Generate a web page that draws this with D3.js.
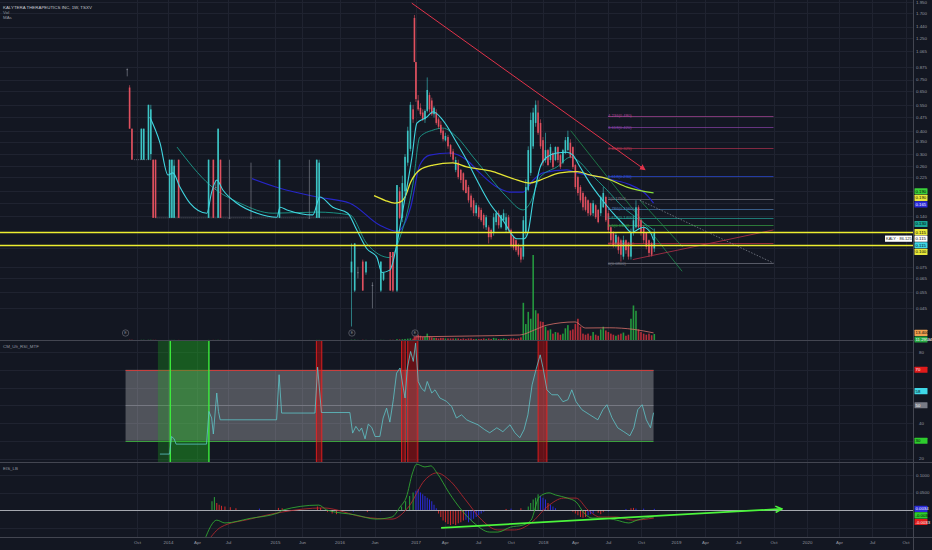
<!DOCTYPE html>
<html><head><meta charset="utf-8">
<script src="https://cdn.jsdelivr.net/npm/d3@7/dist/d3.min.js"></script>
<style>body{margin:0;background:#131722;overflow:hidden}svg{display:block}</style>
</head><body>
<svg id="c" width="932" height="550"></svg>
<script>
// ---------------- DATA ----------------
const title = "KALYTERA THERAPEUTICS INC, 1W, TSXV";
const xTickDates = ["2013-10-01","2014-01-01","2014-04-01","2014-07-01","2015-01-01","2015-06-01","2016-01-01","2016-06-01","2017-01-01","2017-04-01","2017-07-01","2017-10-01","2018-01-01","2018-04-01","2018-07-01","2018-10-01","2019-01-01","2019-04-01","2019-07-01","2019-10-01","2020-01-01","2020-04-01","2020-07-01","2020-10-01"];
const xTickLabels = ["Oct","2014","Apr","Jul","2015","Jun","2016","Jun","2017","Apr","Jul","Oct","2018","Apr","Jul","Oct","2019","Apr","Jul","Oct","2020","Apr","Jul","Oct"];
const priceTicks = [1.950,1.700,1.440,1.250,1.065,0.875,0.750,0.650,0.550,0.475,0.400,0.350,0.300,0.260,0.225,0.190,0.165,0.140,0.115,0.095,0.075,0.065,0.055,0.045];
const rsiTicks = [80,70,60,50,40,30,20];
const eisTicks = [0.1,0.05,0,-0.05];

// weekly candles: date, open, high, low, close, volume (M)
const candles = [
["2013-09-02",.85,.86,.78,.85,.2],["2013-09-09",.68,.70,.41,.41,.5],["2013-09-16",.41,.41,.28,.28,.4],
["2013-10-14",.28,.41,.28,.41,.3],["2013-10-21",.28,.41,.28,.41,.3],["2013-11-04",.28,.55,.28,.55,.4],
["2013-11-11",.30,.55,.28,.52,.4],["2013-11-18",.28,.28,.137,.137,.3],["2013-11-25",.28,.28,.137,.137,.3],
["2014-01-06",.137,.28,.137,.28,.2],["2014-01-13",.137,.28,.137,.28,.2],["2014-01-20",.137,.28,.137,.26,.2],
["2014-02-03",.28,.28,.137,.137,.2],["2014-05-05",.137,.28,.137,.28,.2],["2014-05-19",.28,.28,.137,.137,.2],
["2014-05-26",.20,.218,.193,.20,.1],["2014-06-02",.137,.41,.137,.41,.3],["2014-06-09",.28,.28,.137,.137,.2],
["2014-07-07",.137,.28,.137,.137,.1],["2014-09-29",.137,.27,.137,.137,.1],["2015-01-26",.137,.28,.137,.28,.2],
["2015-07-13",.137,.28,.137,.137,.1],["2015-08-24",.137,.28,.137,.28,.2],["2015-09-07",.137,.28,.137,.27,.2],
["2016-02-22",.07,.10,.036,.08,.5],["2016-03-07",.056,.10,.055,.10,.6],["2016-03-21",.07,.075,.065,.07,.2],
["2016-04-11",.08,.082,.056,.056,.4],["2016-04-25",.07,.08,.068,.08,.3],["2016-05-23",.06,.062,.045,.06,.2],
["2016-07-04",.056,.08,.055,.08,.3],["2016-07-18",.064,.07,.063,.07,.2],["2016-08-22",.09,.09,.056,.056,.4],
["2016-09-05",.09,.09,.055,.056,.4],["2016-09-26",.056,.205,.055,.205,1.5],["2016-10-10",.19,.20,.135,.137,1.2],
["2016-10-24",.137,.23,.13,.21,1.5],["2016-11-07",.19,.30,.18,.29,2],["2016-11-21",.27,.42,.26,.40,2.5],
["2016-12-05",.32,.57,.31,.55,3],["2016-12-19",.52,.55,.44,.46,2.5],["2016-12-26",1.60,1.66,.93,.93,12],
["2017-01-02",.93,.93,.57,.59,18],["2017-01-09",.58,.62,.51,.52,10],["2017-01-16",.53,.56,.48,.49,8],
["2017-01-23",.50,.52,.45,.46,6],["2017-01-30",.46,.52,.44,.51,6],["2017-02-06",.51,.77,.50,.66,12],
["2017-02-13",.62,.64,.50,.52,7],["2017-02-20",.58,.60,.48,.49,5],["2017-02-27",.49,.54,.47,.53,4],
["2017-03-06",.50,.52,.43,.44,4],["2017-03-13",.46,.47,.41,.42,3],["2017-03-20",.43,.45,.38,.39,4],
["2017-03-27",.40,.41,.35,.36,4],["2017-04-03",.355,.39,.35,.375,3],["2017-04-10",.37,.38,.32,.33,3],
["2017-04-17",.335,.34,.29,.30,3],["2017-04-24",.31,.32,.27,.28,3],["2017-05-01",.247,.29,.24,.279,3],
["2017-05-08",.27,.28,.22,.226,3],["2017-05-15",.247,.25,.21,.218,2],["2017-05-22",.237,.24,.19,.193,3],
["2017-05-29",.218,.22,.185,.186,2],["2017-06-05",.20,.205,.165,.17,3],["2017-06-12",.18,.185,.15,.156,3],
["2017-06-19",.17,.175,.14,.145,2],["2017-06-26",.145,.165,.14,.16,2],["2017-07-03",.156,.16,.135,.138,2],
["2017-07-10",.151,.155,.13,.133,2],["2017-07-17",.142,.145,.12,.125,3],["2017-07-24",.122,.142,.118,.138,2],
["2017-07-31",.122,.125,.10,.108,3],["2017-08-07",.118,.12,.105,.108,2],["2017-08-14",.114,.145,.11,.138,4],
["2017-08-21",.13,.15,.125,.145,3],["2017-08-28",.145,.15,.12,.125,2],["2017-09-04",.122,.14,.12,.142,2],
["2017-09-11",.133,.152,.13,.145,3],["2017-09-18",.118,.145,.115,.138,2],["2017-09-25",.138,.142,.115,.118,2],
["2017-10-02",.118,.12,.095,.098,3],["2017-10-09",.108,.11,.092,.095,3],["2017-10-16",.104,.106,.09,.092,2],
["2017-10-23",.098,.10,.085,.087,3],["2017-10-30",.095,.097,.079,.082,5],["2017-11-06",.085,.14,.082,.133,70],
["2017-11-13",.114,.22,.11,.20,30],["2017-11-20",.193,.33,.19,.315,53],["2017-11-27",.238,.50,.23,.456,40],
["2017-12-04",.33,.53,.32,.50,160],["2017-12-11",.44,.58,.42,.55,56],["2017-12-18",.50,.58,.38,.39,50],
["2017-12-25",.44,.46,.32,.33,35],["2018-01-01",.356,.37,.26,.27,34],["2018-01-08",.279,.39,.27,.315,25],
["2018-01-15",.315,.32,.26,.262,18],["2018-01-22",.279,.34,.27,.327,20],["2018-01-29",.304,.31,.25,.256,12],
["2018-02-05",.279,.33,.275,.327,15],["2018-02-12",.327,.33,.27,.279,14],["2018-02-19",.296,.30,.25,.256,10],
["2018-02-26",.27,.32,.265,.315,12],["2018-03-05",.304,.37,.30,.356,22],["2018-03-12",.315,.40,.31,.37,28],
["2018-03-19",.345,.36,.285,.289,18],["2018-03-26",.327,.33,.25,.256,20],["2018-04-02",.262,.265,.195,.20,30],
["2018-04-09",.226,.23,.18,.186,40],["2018-04-16",.20,.205,.165,.17,25],["2018-04-23",.186,.19,.15,.156,12],
["2018-04-30",.177,.18,.148,.151,10],["2018-05-07",.17,.172,.14,.145,12],["2018-05-14",.164,.165,.14,.142,8],
["2018-05-21",.145,.17,.14,.164,15],["2018-05-28",.16,.162,.135,.138,10],["2018-06-04",.151,.153,.128,.13,8],
["2018-06-11",.145,.18,.14,.177,20],["2018-06-18",.156,.20,.155,.186,25],["2018-06-25",.177,.18,.13,.133,18],
["2018-07-02",.145,.15,.115,.118,15],["2018-07-09",.122,.125,.10,.104,12],["2018-07-16",.114,.116,.095,.098,10],
["2018-07-23",.10,.115,.095,.111,8],["2018-07-30",.108,.11,.088,.092,10],["2018-08-06",.104,.106,.08,.087,12],
["2018-08-13",.085,.11,.082,.104,14],["2018-08-20",.104,.105,.088,.092,8],["2018-08-27",.10,.102,.082,.085,10],
["2018-09-03",.085,.12,.082,.114,40],["2018-09-10",.114,.14,.11,.133,65],["2018-09-17",.122,.17,.12,.156,55],
["2018-09-24",.156,.16,.12,.122,20],["2018-10-01",.133,.135,.11,.114,15],["2018-10-08",.122,.125,.10,.104,12],
["2018-10-15",.114,.115,.093,.096,10],["2018-10-22",.104,.105,.085,.089,12],["2018-10-29",.10,.102,.085,.087,9],
["2018-11-05",.094,.12,.09,.114,11.3]
];
// unchanged-price stretches (no trades): start, end, price
const flatRuns = [["2013-09-23","2013-11-11",0.28],["2013-11-25","2016-02-15",0.137]];

const maFast = [["2013-11-08",.473],["2013-12-08",.345],["2014-01-01",.232],["2014-01-16",.238],["2014-02-07",.20],["2014-03-10",.164],["2014-04-30",.145],["2014-05-14",.188],["2014-05-29",.218],["2014-06-16",.193],["2014-08-05",.164],["2014-10-23",.145],["2015-01-12",.138],["2015-01-29",.156],["2015-03-09",.151],["2015-08-02",.142],["2015-09-11",.177],["2015-11-24",.156],["2016-02-06",.145],["2016-03-16",.118],["2016-04-28",.094],["2016-06-13",.0845],["2016-07-09",.070],["2016-08-20",.072],["2016-09-26",.100],["2016-10-27",.151],["2016-12-13",.289],["2017-01-05",.439],["2017-02-05",.473],["2017-02-24",.505],["2017-03-26",.456],["2017-05-04",.345],["2017-05-31",.279],["2017-06-28",.218],["2017-08-03",.164],["2017-09-09",.133],["2017-10-18",.106],["2017-11-08",.106],["2017-11-19",.114],["2017-12-04",.170],["2017-12-24",.256],["2018-01-12",.289],["2018-02-09",.304],["2018-03-09",.307],["2018-03-26",.296],["2018-04-15",.256],["2018-05-12",.210],["2018-06-09",.177],["2018-07-15",.145],["2018-08-12",.127],["2018-09-06",.114],["2018-09-20",.118],["2018-10-07",.122],["2018-10-26",.114],["2018-11-03",.104]];
const maMid = [["2014-01-29",.327],["2014-05-09",.205],["2014-08-17",.164],["2014-12-24",.145],["2015-08-26",.147],["2016-02-15",.142],["2016-04-28",.100],["2016-08-20",.084],["2016-10-12",.108],["2016-12-19",.210],["2017-01-14",.370],["2017-02-24",.403],["2017-03-26",.413],["2017-05-04",.370],["2017-06-18",.289],["2017-08-03",.226],["2017-09-20",.177],["2017-11-05",.151],["2017-11-25",.164],["2017-12-24",.226],["2018-02-09",.256],["2018-03-20",.289],["2018-04-07",.279],["2018-05-12",.238],["2018-06-28",.193],["2018-08-12",.156],["2018-09-28",.133],["2018-11-03",.118]];
const maBlue = [["2014-10-03",.222],["2015-01-29",.197],["2015-08-26",.177],["2016-02-15",.164],["2016-06-29",.125],["2016-09-26",.116],["2016-12-06",.156],["2017-01-14",.262],["2017-02-14",.296],["2017-04-15",.304],["2017-05-31",.279],["2017-07-06",.238],["2017-08-23",.200],["2017-09-29",.188],["2017-11-05",.188],["2017-12-04",.218],["2018-01-01",.238],["2018-03-09",.247],["2018-04-07",.238],["2018-06-09",.226],["2018-07-15",.218],["2018-08-28",.207],["2018-10-19",.179],["2018-11-03",.164]];
const maSlow = [["2016-05-30",.180],["2016-07-25",.170],["2016-09-14",.164],["2016-10-12",.166],["2016-11-07",.177],["2016-12-06",.212],["2017-01-14",.247],["2017-02-24",.262],["2017-04-23",.269],["2017-05-31",.256],["2017-08-12",.242],["2017-10-07",.222],["2017-11-25",.210],["2017-12-24",.218],["2018-02-18",.238],["2018-04-07",.242],["2018-05-12",.232],["2018-06-28",.222],["2018-08-23",.200],["2018-11-03",.186]];
const volMA = [["2017-01-01",6],["2017-06-09",7.5],["2017-10-27",9.4],["2017-12-08",19],["2018-01-12",28],["2018-04-01",34],["2018-04-30",22.6],["2018-07-05",23],["2018-09-11",20],["2018-11-03",13.4]];
const horizLevels = [0.115, 0.0985];
const trendDown = [["2016-12-12",1.92],["2018-10-12",0.247]];
const greenLines = [[["2018-03-20",0.40],["2019-01-20",0.071]],[["2018-09-28",0.17],["2019-01-22",0.0956]]];
const dottedLine = [["2018-09-28",0.17],["2019-10-01",0.0785]];
const redRise = [["2018-09-08",0.082],["2019-10-01",0.118]];
const fibStart = "2018-07-01", fibEnd = "2019-10-01";
const fibLevels = [[0.480,"4.236(0.480)"],[0.418,"3.618(0.420)"],[0.323,"2.618(0.325)"],[0.229,"1.618(0.230)"],[0.173,"1(0.1750)"],[0.153,"0.786(0.1560)"],[0.137,"0.618(0.1400)"],[0.125,"0.5(0.1300)"],[0.100,"0.236(0.1000)"],[0.0785,"0(0.0800)"]];
const fibColors = ["#b0489a","#8e44ad","#b83450","#2f4fe0","#787b86","#4a7fb8","#26a69a","#3aa845","#d0354a","#787b86"];
const eventDates = ["2013-08-28","2016-02-24","2016-12-29"];

const rsi = [["2013-12-08",22.5],["2014-01-06",22.5],["2014-01-12",32.4],["2014-01-20",31.1],["2014-01-26",28.1],["2014-04-29",28.1],["2014-05-06",46.5],["2014-05-14",42.8],["2014-05-19",33.8],["2014-05-29",56.9],["2014-06-03",46.5],["2014-06-08",41.8],["2015-01-10",41.8],["2015-01-24",67.2],["2015-02-07",45.6],["2015-08-14",45.6],["2015-08-29",71.5],["2015-09-20",45.9],["2016-02-15",45.9],["2016-02-27",34.3],["2016-03-12",38.1],["2016-03-27",35.3],["2016-04-06",37.2],["2016-04-21",31.1],["2016-05-05",39.4],["2016-05-20",37.5],["2016-06-04",32.4],["2016-06-29",32.4],["2016-07-16",42.8],["2016-08-03",48.4],["2016-08-20",40.5],["2016-09-07",53.1],["2016-09-24",68.1],["2016-10-12",71.0],["2016-10-29",59.7],["2016-11-07",54.1],["2016-11-19",71.0],["2016-12-06",80.3],["2016-12-20",74.7],["2017-01-01",85.0],["2017-01-09",63.4],["2017-01-19",59.7],["2017-01-29",57.8],["2017-02-06",63.4],["2017-02-20",56.9],["2017-03-02",58.7],["2017-03-17",54.1],["2017-04-06",52.2],["2017-04-20",49.3],["2017-05-03",42.8],["2017-05-17",44.6],["2017-05-31",41.8],["2017-06-09",40.9],["2017-07-01",39.0],["2017-07-20",36.2],["2017-08-03",34.5],["2017-08-23",37.3],["2017-09-09",35.1],["2017-09-29",39.0],["2017-10-13",34.5],["2017-10-27",31.7],["2017-11-08",36.2],["2017-11-19",44.6],["2017-12-01",61.5],["2017-12-12",70],["2017-12-24",78.4],["2018-01-01",71.1],["2018-01-12",58.7],["2018-01-26",55.9],["2018-02-12",55.9],["2018-02-26",52],["2018-03-12",53.1],["2018-03-23",58.7],["2018-04-04",52],["2018-04-20",47.5],["2018-05-12",44.6],["2018-06-03",41.8],["2018-06-17",47.5],["2018-06-28",50.3],["2018-07-12",43],["2018-07-28",37.3],["2018-08-14",35.1],["2018-08-31",32.8],["2018-09-11",37.3],["2018-09-22",47.5],["2018-10-04",50.3],["2018-10-15",41.8],["2018-10-26",37.3],["2018-11-03",45.8]];
const rsiBox = ["2013-08-28","2018-11-03",30,70];
const rsiRedZones = [["2015-08-22","2015-09-22"],["2016-10-20","2016-11-08"],["2016-11-21","2017-01-08"],["2017-12-18","2018-01-12"]];
const rsiGreenZone = ["2013-12-02","2014-01-08","2014-05-06"];

const eisMain = [["2014-04-23",-0.086],["2014-05-29",-0.029],["2014-06-22",-0.037],["2014-09-25",-0.024],["2015-01-17",-0.0086],["2015-02-14",0.0],["2015-09-05",0.014],["2015-10-20",0.0],["2016-03-10",-0.014],["2016-06-09",-0.026],["2016-08-31",-0.02],["2016-10-12",0.0086],["2016-11-14",0.037],["2016-12-16",0.106],["2017-01-04",0.131],["2017-01-30",0.123],["2017-02-17",0.126],["2017-03-08",0.106],["2017-04-13",0.049],["2017-05-17",0.0],["2017-06-20",-0.037],["2017-08-03",-0.063],["2017-08-26",-0.063],["2017-09-30",-0.049],["2017-11-05",-0.043],["2017-11-28",-0.029],["2017-12-21",0.037],["2018-01-18",0.049],["2018-02-05",0.043],["2018-03-11",0.034],["2018-04-04",0.023],["2018-04-26",-0.0086],["2018-05-18",-0.023],["2018-06-22",-0.023],["2018-07-25",-0.029],["2018-08-28",-0.037],["2018-09-20",-0.029],["2018-10-12",-0.023],["2018-11-03",-0.02]];
const eisSignal = [["2014-05-05",-0.086],["2014-06-10",-0.049],["2014-09-25",-0.026],["2015-02-09",-0.006],["2015-09-28",0.006],["2016-04-15",-0.02],["2016-08-31",-0.026],["2016-11-25",0.0086],["2017-01-30",0.086],["2017-03-08",0.106],["2017-04-13",0.086],["2017-05-28",0.029],["2017-07-12",-0.029],["2017-08-26",-0.057],["2017-10-12",-0.057],["2017-11-28",-0.037],["2018-01-12",0.0086],["2018-02-28",0.034],["2018-04-04",0.034],["2018-05-07",0.0],["2018-06-09",-0.02],["2018-07-25",-0.02],["2018-09-08",-0.029],["2018-11-04",-0.023]];
// histogram: date, value, kind (g = rising, r = falling, b = impulse)
const eisHist = [["2014-05-15",0.025,"g"],["2014-05-22",0.037,"g"],["2014-05-29",0.02,"r"],["2014-06-05",0.015,"r"],["2014-06-12",0.012,"r"],["2014-06-22",0.01,"r"],["2014-07-10",0.008,"r"],["2014-08-01",0.005,"r"],["2014-11-01",0.004,"b"],["2015-01-20",0.006,"r"],["2015-02-10",0.005,"r"],["2015-08-28",0.01,"r"],["2015-09-15",0.006,"r"],["2015-10-25",-0.006,"r"],["2015-11-20",-0.01,"r"],["2015-12-15",-0.012,"r"],["2016-03-01",-0.005,"b"],["2016-05-01",-0.006,"r"],["2016-07-01",-0.004,"b"],["2016-10-20",0.01,"g"],["2016-11-10",0.025,"g"],["2016-12-01",0.04,"g"],["2016-12-19",0.05,"g"],["2017-01-02",0.055,"b"],["2017-01-09",0.06,"b"],["2017-01-16",0.05,"b"],["2017-01-23",0.045,"b"],["2017-01-30",0.04,"b"],["2017-02-06",0.035,"b"],["2017-02-13",0.03,"b"],["2017-02-20",0.025,"b"],["2017-02-27",0.015,"b"],["2017-03-06",0.005,"b"],["2017-03-13",-0.01,"r"],["2017-03-20",-0.02,"r"],["2017-03-27",-0.03,"r"],["2017-04-03",-0.035,"r"],["2017-04-10",-0.04,"r"],["2017-04-17",-0.043,"r"],["2017-04-24",-0.04,"r"],["2017-05-01",-0.043,"r"],["2017-05-08",-0.038,"r"],["2017-05-15",-0.035,"r"],["2017-05-22",-0.03,"r"],["2017-05-29",-0.028,"b"],["2017-06-05",-0.035,"b"],["2017-06-12",-0.03,"b"],["2017-06-19",-0.025,"b"],["2017-06-26",-0.02,"b"],["2017-07-03",-0.015,"b"],["2017-07-10",-0.01,"b"],["2017-07-17",-0.005,"b"],["2017-09-18",0.003,"r"],["2017-10-02",0.004,"b"],["2017-10-30",0.005,"r"],["2017-11-20",0.01,"g"],["2017-11-27",0.02,"g"],["2017-12-04",0.03,"g"],["2017-12-11",0.035,"g"],["2017-12-18",0.045,"g"],["2017-12-25",0.04,"b"],["2018-01-01",0.035,"b"],["2018-01-08",0.03,"b"],["2018-01-15",0.02,"r"],["2018-01-22",0.015,"b"],["2018-01-29",0.01,"b"],["2018-02-05",0.005,"b"],["2018-03-26",-0.005,"r"],["2018-04-02",-0.01,"r"],["2018-04-09",-0.015,"r"],["2018-04-16",-0.02,"r"],["2018-04-23",-0.022,"r"],["2018-04-30",-0.02,"r"],["2018-05-07",-0.015,"b"],["2018-05-14",-0.012,"b"],["2018-05-21",-0.01,"b"],["2018-06-04",-0.008,"r"],["2018-06-11",-0.012,"r"],["2018-06-18",-0.006,"r"],["2018-07-02",-0.004,"b"],["2018-08-20",0.003,"b"],["2018-09-03",0.005,"r"],["2018-09-10",0.006,"r"],["2018-09-17",0.004,"b"],["2018-10-08",0.004,"b"],["2018-11-05",0.0034,"b"]];
const eisArrow = [["2017-03-21",-0.051],["2019-10-24",0.003]];

// right-axis value tags
const priceTags = [[0.190,"0.190","#3ad13a","#000"],[0.186,"0.190","#e8e83a","#000"],[0.164,"0.165","#2a2ad8","#fff"],[0.127,"0.130","#1aa596","#000"],[0.115,"0.115","#e8e83a","#000"],[0.114,"0.115","#ffffff","#000"],[0.104,"0.115","#3fd8e8","#000"],[0.100,"0.100","#e8e83a","#000"]];
const volTags = [[13.4,"13.400","#f0a050","#000"],[11.3,"11.295M","#26a641","#fff"]];
const rsiTags = [[70,"70","#e01b1b","#fff"],[58,"58","#3fd8e8","#000"],[50,"50","#787b86","#fff"],[30,"30","#2ecc2e","#000"]];
const eisTags = [[0.0034,"0.0034","#2a2ad8","#fff"],[-0.0030,"-0.0030","#2ecc2e","#000"],[-0.0033,"-0.0033","#e01b1b","#fff"]];

// ---------------- LAYOUT / SCALES ----------------
const P = d3.timeParse("%Y-%m-%d");
const R = 913, MAIN=[0,340], RSIP=[341,462], EISP=[463,537];
const FONT = "Liberation Sans, Arial, sans-serif";
const BG = "#131722", GRID = "#1f2330", TXT = "#9598a1";
// time axis follows bar density (weeks without trades are compressed)
const xBreakDates = ["2012-08-20","2013-10-01","2014-01-01","2014-04-01","2014-07-01","2015-01-01","2015-06-01","2016-01-01","2016-06-01","2017-01-01","2017-04-01","2017-07-01","2017-10-01","2018-01-01","2018-04-01","2018-07-01","2018-10-01","2019-01-01","2019-04-01","2019-07-01","2019-10-01","2020-01-01","2020-04-01","2020-07-01","2020-10-01","2020-12-01"].map(P);
const xBreakPx = [0,137,168,197,228,275,302,339.5,374.5,415.6,444.7,478,510.7,543,575,608,641,676,705,738,773.5,807,839,872,905.5,927];
const x = d3.scaleTime().domain(xBreakDates).range(xBreakPx);
const yM = d3.scaleLog().domain([0.0305,1.995]).range([MAIN[1],MAIN[0]]);
const yV = d3.scaleLinear().domain([0,160]).range([MAIN[1],255]);
const yR = d3.scaleLinear().domain([20,80]).range([458.5,352]);
const yE = d3.scaleLinear().domain([-0.05,0.1]).range([527.5,475]);
const snap = v=>Math.round(v)+0.5;

const svg = d3.select("#c");
svg.append("rect").attr("width",932).attr("height",550).attr("fill",BG);
const defs = svg.append("defs");
[["cM",MAIN],["cR",RSIP],["cE",EISP]].forEach(([id,r])=>{
  defs.append("clipPath").attr("id",id).append("rect").attr("x",0).attr("y",r[0]).attr("width",R).attr("height",r[1]-r[0]);
});
const grad = defs.append("linearGradient").attr("id","slowGrad").attr("gradientUnits","userSpaceOnUse")
  .attr("x1",x(P("2018-06-01"))).attr("x2",x(P("2018-11-03"))).attr("y1",0).attr("y2",0);
grad.append("stop").attr("offset","0").attr("stop-color","#e6e633");
grad.append("stop").attr("offset","1").attr("stop-color","#7ee03a");
defs.append("marker").attr("id","arG").attr("viewBox","0 0 10 10").attr("refX",9).attr("refY",5)
  .attr("markerWidth",8).attr("markerHeight",8).attr("orient","auto").attr("markerUnits","userSpaceOnUse")
  .append("path").attr("d","M1,1 L9,5 L1,9").attr("fill","none").attr("stroke","#4cf53c").attr("stroke-width",2);
defs.append("marker").attr("id","arR").attr("viewBox","0 0 10 10").attr("refX",9).attr("refY",5)
  .attr("markerWidth",6).attr("markerHeight",6).attr("orient","auto").attr("markerUnits","userSpaceOnUse")
  .append("path").attr("d","M0,0 L10,5 L0,10 z").attr("fill","#e0334a");

// ---------------- GRID ----------------
const grid = svg.append("g");
const tickDates = xTickDates.map(P);
grid.selectAll("line.vg").data(tickDates).join("line").attr("class","vg").attr("x1",d=>snap(x(d))).attr("x2",d=>snap(x(d)))
  .attr("y1",0).attr("y2",EISP[1]).attr("stroke",GRID).attr("stroke-width",1);
grid.selectAll("line.hm").data(priceTicks).join("line").attr("class","hm").attr("x1",0).attr("x2",R).attr("y1",d=>snap(yM(d))).attr("y2",d=>snap(yM(d))).attr("stroke",GRID);
grid.selectAll("line.hr").data(rsiTicks).join("line").attr("class","hr").attr("x1",0).attr("x2",R).attr("y1",d=>snap(yR(d))).attr("y2",d=>snap(yR(d))).attr("stroke",GRID);
grid.selectAll("line.he").data(eisTicks).join("line").attr("class","he").attr("x1",0).attr("x2",R).attr("y1",d=>snap(yE(d))).attr("y2",d=>snap(yE(d))).attr("stroke",GRID);

// ---------------- MAIN PANE ----------------
const C = candles.map(d=>({date:P(d[0]),o:d[1],h:d[2],l:d[3],c:d[4],v:d[5]}));
const upC="#3cc4c4", dnC="#e0505f", eqC="#8a8e99";
const col = d=> d.c>d.o?upC:(d.c<d.o?dnC:eqC);
const gM = svg.append("g").attr("clip-path","url(#cM)");
gM.selectAll("rect.vol").data(C).join("rect").attr("class","vol").attr("x",d=>x(d.date)-0.8).attr("width",1.6)
  .attr("y",d=>yV(d.v)).attr("height",d=>yV(0)-yV(d.v))
  .attr("fill",d=>d.c>=d.o?"#26a641":"#c8303c").attr("opacity",0.9);
const lineT = (ys)=>d3.line().x(d=>x(P(d[0]))).y(d=>ys(d[1]));
gM.append("path").datum(volMA).attr("d",lineT(yV).curve(d3.curveMonotoneX)).attr("fill","none").attr("stroke","#d9706a").attr("stroke-width",0.8);
const ev = gM.selectAll("g.ev").data(eventDates).join("g").attr("class","ev").attr("transform",d=>`translate(${x(P(d))},333)`);
ev.append("circle").attr("r",3.2).attr("fill",BG).attr("stroke","#5d606b").attr("stroke-width",0.8);
ev.append("text").text("E").attr("text-anchor","middle").attr("y",1.3).attr("font-size","3.6px").attr("fill","#8a8e99").attr("font-family",FONT);

const fx1 = x(P(fibStart)), fx2 = x(P(fibEnd));
fibLevels.forEach((f,i)=>{
  gM.append("line").attr("x1",fx1).attr("x2",fx2).attr("y1",snap(yM(f[0]))).attr("y2",snap(yM(f[0]))).attr("stroke",fibColors[i]).attr("stroke-width",0.8).attr("opacity",0.85);
});
const seg = (pts,ys)=>lineT(ys)(pts);
greenLines.forEach(l=>gM.append("path").attr("d",seg(l,yM)).attr("stroke","#1f8a4c").attr("stroke-width",0.8).attr("fill","none"));
gM.append("path").attr("d",seg(dottedLine,yM)).attr("stroke","#8a8e99").attr("stroke-width",0.7).attr("stroke-dasharray","1.5 1.5").attr("fill","none");
gM.append("path").attr("d",seg(redRise,yM)).attr("stroke","#b8324a").attr("stroke-width",0.8).attr("fill","none");
gM.selectAll("line.flat").data(flatRuns).join("line").attr("class","flat").attr("x1",d=>x(P(d[0]))).attr("x2",d=>x(P(d[1])))
  .attr("y1",d=>yM(d[2])).attr("y2",d=>yM(d[2])).attr("stroke","#9ea2ad").attr("stroke-width",0.7).attr("stroke-dasharray","0.8 1.2");
const maLine = lineT(yM).curve(d3.curveMonotoneX);
gM.append("path").datum(maBlue).attr("d",maLine).attr("fill","none").attr("stroke","#2626c8").attr("stroke-width",1.2);
gM.append("path").datum(maMid).attr("d",maLine).attr("fill","none").attr("stroke","#1c9c8c").attr("stroke-width",0.9);
gM.selectAll("line.wk").data(C).join("line").attr("class","wk").attr("x1",d=>x(d.date)).attr("x2",d=>x(d.date))
  .attr("y1",d=>yM(d.h)).attr("y2",d=>yM(d.l)).attr("stroke",col).attr("stroke-width",0.6);
gM.selectAll("rect.bd").data(C).join("rect").attr("class","bd").attr("x",d=>x(d.date)-0.8).attr("width",1.6)
  .attr("y",d=>yM(Math.max(d.o,d.c))).attr("height",d=>Math.max(0.7,Math.abs(yM(d.o)-yM(d.c)))).attr("fill",col);
gM.append("path").datum(maSlow).attr("d",maLine).attr("fill","none").attr("stroke","url(#slowGrad)").attr("stroke-width",1.3);
gM.append("path").datum(maFast).attr("d",maLine).attr("fill","none").attr("stroke","#40d6e0").attr("stroke-width",1.1);
fibLevels.forEach((f,i)=>{
  gM.append("text").text(f[1]).attr("x",fx1).attr("y",yM(f[0])+1.5).attr("font-size","4.2px").attr("fill",fibColors[i]).attr("font-family",FONT);
});
gM.append("path").attr("d",seg(trendDown,yM)).attr("stroke","#e0334a").attr("stroke-width",1).attr("fill","none").attr("marker-end","url(#arR)");
gM.selectAll("line.hl").data(horizLevels).join("line").attr("class","hl").attr("x1",0).attr("x2",R)
  .attr("y1",d=>snap(yM(d))).attr("y2",d=>snap(yM(d))).attr("stroke","#eeee30").attr("stroke-width",1.4);

// ---------------- RSI PANE ----------------
const gR = svg.append("g").attr("clip-path","url(#cR)");
const bx1 = x(P(rsiBox[0])), bx2 = x(P(rsiBox[1]));
gR.append("rect").attr("x",bx1).attr("width",bx2-bx1)
  .attr("y",yR(rsiBox[3])).attr("height",yR(rsiBox[2])-yR(rsiBox[3])).attr("fill","rgba(255,255,255,0.26)");
gR.append("line").attr("x1",bx1).attr("x2",bx2).attr("y1",snap(yR(70))).attr("y2",snap(yR(70))).attr("stroke","#e53935").attr("stroke-width",0.8);
gR.append("line").attr("x1",bx1).attr("x2",bx2).attr("y1",snap(yR(30))).attr("y2",snap(yR(30))).attr("stroke","#43c043").attr("stroke-width",0.8);
gR.append("line").attr("x1",bx1).attr("x2",bx2).attr("y1",snap(yR(50))).attr("y2",snap(yR(50))).attr("stroke","#a0a3ab").attr("stroke-width",0.6).attr("opacity",0.7);
const gz = rsiGreenZone.map(P);
gR.append("rect").attr("x",x(gz[0])).attr("width",x(gz[2])-x(gz[0])).attr("y",RSIP[0]).attr("height",RSIP[1]-RSIP[0]).attr("fill","rgba(30,180,30,0.28)");
gR.append("rect").attr("x",x(gz[1])).attr("width",x(gz[2])-x(gz[1])).attr("y",RSIP[0]).attr("height",RSIP[1]-RSIP[0]).attr("fill","rgba(40,200,40,0.18)");
[gz[1],gz[2]].forEach(d=>gR.append("line").attr("x1",x(d)).attr("x2",x(d)).attr("y1",RSIP[0]).attr("y2",RSIP[1]).attr("stroke","#3cf03c").attr("stroke-width",1.4));
rsiRedZones.forEach(z=>{
  const a=x(P(z[0])), b=x(P(z[1]));
  gR.append("rect").attr("x",a).attr("width",b-a).attr("y",RSIP[0]).attr("height",RSIP[1]-RSIP[0]).attr("fill","rgba(200,10,10,0.45)");
  [a,b].forEach(v=>gR.append("line").attr("x1",v).attr("x2",v).attr("y1",RSIP[0]).attr("y2",RSIP[1]).attr("stroke","#ff2020").attr("stroke-width",1).attr("opacity",0.8));
});
gR.append("path").datum(rsi).attr("d",lineT(yR)).attr("fill","none").attr("stroke","#5ec4c8").attr("stroke-width",0.8);

// ---------------- EIS PANE ----------------
const gE = svg.append("g").attr("clip-path","url(#cE)");
const hc = {g:"#29a33a",r:"#d12b2b",b:"#2b2bd9"};
gE.selectAll("rect.hb").data(eisHist).join("rect").attr("class","hb").attr("x",d=>x(P(d[0]))-0.5).attr("width",1)
  .attr("y",d=>Math.min(yE(0),yE(d[1]))).attr("height",d=>Math.abs(yE(d[1])-yE(0))).attr("fill",d=>hc[d[2]]);
gE.append("line").attr("x1",0).attr("x2",R).attr("y1",snap(yE(0))).attr("y2",snap(yE(0))).attr("stroke","#c8cad0").attr("stroke-width",0.8);
gE.append("path").datum(eisSignal).attr("d",lineT(yE).curve(d3.curveMonotoneX)).attr("fill","none").attr("stroke","#c0282f").attr("stroke-width",0.8);
gE.append("path").datum(eisMain).attr("d",lineT(yE).curve(d3.curveMonotoneX)).attr("fill","none").attr("stroke","#34b834").attr("stroke-width",0.8);
gE.append("path").attr("d",seg(eisArrow,yE)).attr("stroke","#4cf53c").attr("stroke-width",1.8).attr("fill","none").attr("marker-end","url(#arG)");

// ---------------- FRAMES & AXES ----------------
const fr = svg.append("g").attr("stroke","#434651").attr("stroke-width",1);
[340.5,462.5,537.5].forEach(v=>fr.append("line").attr("x1",0).attr("x2",932).attr("y1",v).attr("y2",v));
fr.append("line").attr("x1",R+.5).attr("x2",R+.5).attr("y1",0).attr("y2",550);

const tagYs = [];
function tags(list, scale){
  const t = list.map(d=>({y:scale(d[0]),txt:d[1],bg:d[2],fg:d[3]})).sort((a,b)=>a.y-b.y);
  for(let i=1;i<t.length;i++) if(t[i].y < t[i-1].y+6.6) t[i].y = t[i-1].y+6.6;
  const g = svg.append("g");
  t.forEach(d=>{
    tagYs.push(d.y);
    g.append("rect").attr("x",R+1.5).attr("y",d.y-3.1).attr("width",13).attr("height",6.2).attr("fill",d.bg).attr("rx",0.5);
    g.append("text").text(d.txt).attr("x",R+2.5).attr("y",d.y+1.5).attr("fill",d.fg).attr("font-size","4.3px").attr("font-family",FONT);
  });
}
const styleAxis = g=>{ g.select(".domain").remove(); g.selectAll("text").attr("fill",TXT).attr("font-size","4.4px").attr("font-family",FONT); };
svg.append("g").attr("transform","translate(0,541)").call(d3.axisBottom(x).tickValues(tickDates).tickFormat((d,i)=>xTickLabels[i]).tickSize(0).tickPadding(0)).call(styleAxis);
const axM = svg.append("g").attr("transform",`translate(${R},0)`).call(d3.axisRight(yM).tickValues(priceTicks).tickFormat(d3.format(".3f")).tickSize(0).tickPadding(3)).call(styleAxis);
const axR = svg.append("g").attr("transform",`translate(${R},0)`).call(d3.axisRight(yR).tickValues([80,40,20]).tickFormat(d3.format("d")).tickSize(0).tickPadding(6)).call(styleAxis);
const axE = svg.append("g").attr("transform",`translate(${R},0)`).call(d3.axisRight(yE).tickValues([0.1,0.05,-0.05]).tickFormat(d3.format(".4f")).tickSize(0).tickPadding(3)).call(styleAxis);
tags(priceTags,yM); tags(volTags,yV); tags(rsiTags,yR); tags(eisTags,yE);
[[axM,yM],[axR,yR],[axE,yE]].forEach(([ax,sc])=>ax.selectAll(".tick").each(function(d){
  const yy = sc(d); if(tagYs.some(t=>Math.abs(t-yy)<6)) d3.select(this).select("text").remove();
}));
const lastY = tagYs[5];
svg.append("rect").attr("x",885).attr("y",lastY-3.1).attr("width",27).attr("height",6.2).attr("fill","#ffffff");
svg.append("text").text("KALY · 86.125").attr("x",886).attr("y",lastY+1.4).attr("font-size","4px").attr("fill","#131722").attr("font-family",FONT);

const leg = (t,yy,c)=>svg.append("text").text(t).attr("x",3).attr("y",yy).attr("font-size","4.4px").attr("fill",c).attr("font-family",FONT);
leg(title,8.5,"#c8cad0"); leg("Vol",14,TXT); leg("MAs",19.3,TXT); leg("CM_Ult_RSI_MTF",347.5,TXT); leg("EIS_LB",469.5,TXT);
</script>
</body></html>
